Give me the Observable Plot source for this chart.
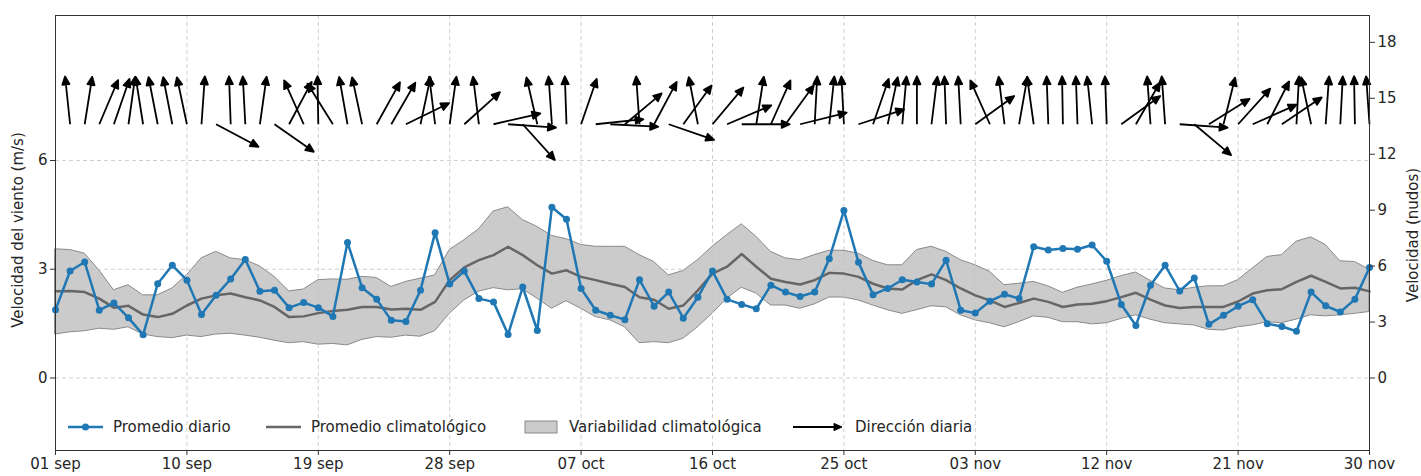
<!DOCTYPE html>
<html><head><meta charset="utf-8">
<script src="https://cdn.jsdelivr.net/npm/d3@7"></script>
<script src="https://cdn.jsdelivr.net/npm/@observablehq/plot@0.6"></script>
<style>body{margin:0;background:#fff;}</style>
</head><body><div id="chart"></div>
<script>
// ---------- data ----------
const startDate = "2024-09-01";
const dailyMean = [
  1.88,2.95,3.20,1.87,2.07,1.66,1.19,2.60,3.11,2.70,
  1.75,2.28,2.73,3.27,2.39,2.42,1.94,2.08,1.94,1.70,
  3.74,2.49,2.17,1.59,1.56,2.42,4.01,2.59,2.95,2.19,
  2.10,1.20,2.51,1.31,4.71,4.38,2.47,1.87,1.73,1.61,
  2.71,1.98,2.37,1.65,2.23,2.95,2.17,2.03,1.91,2.56,
  2.37,2.25,2.37,3.29,4.62,3.19,2.30,2.47,2.71,2.65,
  2.59,3.25,1.87,1.79,2.12,2.31,2.19,3.62,3.53,3.57,
  3.55,3.67,3.22,2.03,1.45,2.56,3.11,2.40,2.76,1.48,
  1.73,1.98,2.16,1.50,1.42,1.29,2.37,1.99,1.82,2.17,
  3.05];
const climMean = [
  2.39,2.40,2.37,2.19,1.94,1.99,1.75,1.68,1.77,2.00,
  2.19,2.28,2.33,2.23,2.14,1.96,1.68,1.70,1.79,1.85,
  1.88,1.96,1.96,1.89,1.91,1.88,2.10,2.70,3.05,3.25,
  3.39,3.62,3.39,3.11,2.88,2.97,2.79,2.70,2.60,2.51,
  2.23,2.16,1.91,2.00,2.42,2.88,3.07,3.42,3.07,2.74,
  2.65,2.58,2.70,2.90,2.88,2.79,2.60,2.47,2.44,2.70,
  2.86,2.70,2.47,2.28,2.14,1.96,2.07,2.19,2.10,1.96,
  2.03,2.05,2.12,2.23,2.35,2.16,2.00,1.93,1.96,1.96,
  1.96,2.11,2.33,2.42,2.45,2.65,2.82,2.65,2.47,2.49,
  2.39];
const climHigh = [
  3.55,3.53,3.43,2.97,2.42,2.56,2.28,2.28,2.47,2.83,
  3.30,3.48,3.30,3.25,3.08,2.79,2.39,2.44,2.70,2.72,
  2.71,2.79,2.76,2.51,2.65,2.74,2.83,3.53,3.80,4.10,
  4.59,4.71,4.36,4.17,3.92,3.83,3.67,3.62,3.62,3.62,
  3.39,3.20,2.83,2.95,3.25,3.62,3.94,4.24,3.90,3.48,
  3.30,3.25,3.39,3.51,3.51,3.43,3.23,3.11,3.11,3.53,
  3.62,3.48,3.25,3.11,2.93,2.56,2.60,2.65,2.53,2.35,
  2.49,2.58,2.68,2.81,2.91,2.68,2.47,2.42,2.49,2.53,
  2.53,2.70,3.02,3.34,3.39,3.76,3.88,3.67,3.22,3.20,
  2.99];
const climLow = [
  1.20,1.26,1.29,1.36,1.33,1.40,1.20,1.13,1.10,1.17,
  1.13,1.20,1.22,1.17,1.11,1.03,0.96,0.99,0.92,0.94,
  0.90,1.05,1.13,1.11,1.17,1.14,1.29,1.77,2.14,2.38,
  2.48,2.42,2.45,2.19,1.91,2.12,1.91,1.68,1.59,1.40,
  0.96,0.99,0.96,1.08,1.40,1.77,2.19,2.49,2.33,2.00,
  2.00,1.91,2.03,2.22,2.22,2.14,2.00,1.87,1.77,1.87,
  1.98,1.95,1.73,1.59,1.51,1.40,1.54,1.70,1.66,1.54,
  1.54,1.48,1.51,1.63,1.73,1.61,1.51,1.48,1.45,1.33,
  1.31,1.40,1.45,1.54,1.51,1.61,1.73,1.70,1.73,1.77,
  1.82];
// direction the arrow points, degrees clockwise from north (null = no arrow)
const windDir = [
  null,-6,9,23,19,8,-9,-11,-11,-12,
  4,118,-2,-3,8,125,28,-24,-1,-32,
  -10,-12,29,30,64,12,-7,8,48,-7,
  77,94,138,-13,-4,-2,19,84,93,50,
  -4,28,109,36,-11,40,67,90,9,24,
  36,76,3,6,-3,72,19,12,5,0,
  7,-2,-3,54,-24,-7,10,-8,-2,-1,
  -2,-6,-2,54,30,-4,-4,94,130,58,
  14,42,66,27,56,3,-12,4,3,-1,
  -4];
const arrowLevel = 7; // m/s row on which the daily direction arrows sit
const xTickLabels = ["01 sep","10 sep","19 sep","28 sep","07 oct","16 oct","25 oct","03 nov","12 nov","21 nov","30 nov"];
const msTicks = [0, 3, 6];
const knotTicks = [0, 3, 6, 9, 12, 15, 18];
const legendLabels = ["Promedio diario", "Promedio climatológico", "Variabilidad climatológica", "Dirección diaria"];
const yLabelLeft = "Velocidad del viento (m/s)";
const yLabelRight = "Velocidad (nudos)";
const MS_TO_KNOTS = 1.94384;

// ---------- build ----------
const FONT = 15;
const t0 = new Date(startDate);
const days = dailyMean.map((_, i) => d3.utcDay.offset(t0, i));
const rows = days.map((date, i) => ({date, daily: dailyMean[i], mean: climMean[i], lo: climLow[i], hi: climHigh[i], dir: windDir[i]}));
const tickDates = xTickLabels.map((_, i) => d3.utcDay.offset(t0, 9 * i));
const tickLabelMap = new Map(tickDates.map((d, i) => [+d, xTickLabels[i]]));

const quiverShape = {
  draw(ctx, l) {
    const hl = 8, hw = 3.6;
    ctx.moveTo(0, 0);
    ctx.lineTo(0, -(l - hl + 1));
    ctx.moveTo(-hw, hl - l);
    ctx.lineTo(0, -l);
    ctx.lineTo(hw, hl - l);
    ctx.closePath();
  }
};

function legendMark(index, scales, values, dims) {
  const g = d3.create("svg:g")
    .attr("font-family", "DejaVu Sans").attr("font-size", FONT).attr("fill", "#262626")
    .attr("text-anchor", "start");
  const y = dims.height - dims.marginBottom - 23;
  const x0 = dims.marginLeft;
  const label = (x, s) => g.append("text").attr("x", x).attr("y", y).attr("dy", "0.35em")
    .attr("text-anchor", "start").text(s);
  // 1: daily mean
  g.append("line").attr("x1", x0 + 13).attr("x2", x0 + 48).attr("y1", y).attr("y2", y)
    .attr("stroke", "#1f77b4").attr("stroke-width", 2.5);
  g.append("circle").attr("cx", x0 + 30.5).attr("cy", y).attr("r", 3.5).attr("fill", "#1f77b4");
  label(x0 + 58, legendLabels[0]);
  // 2: climatological mean
  g.append("line").attr("x1", x0 + 211).attr("x2", x0 + 246).attr("y1", y).attr("y2", y)
    .attr("stroke", "#666").attr("stroke-width", 2.5);
  label(x0 + 256, legendLabels[1]);
  // 3: band
  g.append("rect").attr("x", x0 + 470).attr("y", y - 6).attr("width", 32).attr("height", 12)
    .attr("fill", "#cbcbcb").attr("stroke", "#8a8a8a").attr("stroke-width", 1);
  label(x0 + 514, legendLabels[2]);
  // 4: arrow
  const ax1 = x0 + 738, ax2 = x0 + 787;
  g.append("line").attr("x1", ax1).attr("x2", ax2 - 6).attr("y1", y).attr("y2", y)
    .attr("stroke", "black").attr("stroke-width", 1.8);
  g.append("path").attr("d", `M${ax2 - 8},${y - 3.6}L${ax2},${y}L${ax2 - 8},${y + 3.6}Z`)
    .attr("fill", "black").attr("stroke", "black").attr("stroke-width", 1);
  label(x0 + 800, legendLabels[3]);
  return g.node();
}

const gridStyle = {stroke: "#c4c4c4", strokeOpacity: 1, strokeDasharray: "4,3", strokeWidth: 0.8};

const chart = Plot.plot({
  width: 1421, height: 476,
  marginLeft: 55, marginRight: 52, marginTop: 15, marginBottom: 26,
  style: {fontFamily: "DejaVu Sans", fontSize: FONT + "px", color: "#262626", background: "white", overflow: "visible"},
  x: {type: "utc", domain: [days[0], days[days.length - 1]]},
  y: {domain: [-2, 10]},
  marks: [
    Plot.areaY(rows, {x: "date", y1: "lo", y2: "hi", fill: "#cbcbcb", fillOpacity: 1, stroke: "#8a8a8a", strokeWidth: 1}),
    Plot.gridX(tickDates, gridStyle),
    Plot.gridY(msTicks, gridStyle),
    Plot.line(rows, {x: "date", y: "mean", stroke: "#666666", strokeWidth: 2.5}),
    Plot.line(rows, {x: "date", y: "daily", stroke: "#1f77b4", strokeWidth: 2.5}),
    Plot.dot(rows, {x: "date", y: "daily", fill: "#1f77b4", r: 3.5}),
    Plot.vector(rows.filter(d => d.dir != null), {
      x: "date", y: () => arrowLevel, rotate: "dir", length: 48, anchor: "start",
      shape: quiverShape, stroke: "black", fill: "black", strokeWidth: 1.8, strokeLinecap: "butt"
    }),
    Plot.frame({stroke: "#333", strokeWidth: 1}),
    Plot.axisX(tickDates, {tickFormat: d => tickLabelMap.get(+d), tickSize: 5, tickPadding: 3, label: null, stroke: "#333", fontSize: FONT}),
    Plot.axisY(msTicks, {anchor: "left", tickSize: 5, tickPadding: 3, label: null, stroke: "#333", fontSize: FONT}),
    Plot.axisY(knotTicks.map(k => k / MS_TO_KNOTS), {anchor: "right", tickFormat: v => String(Math.round(v * MS_TO_KNOTS)), tickSize: 5, tickPadding: 3, label: null, stroke: "#333", fontSize: FONT}),
    Plot.text([yLabelLeft], {text: d => d, frameAnchor: "left", textAnchor: "middle", rotate: -90, dx: -37, dy: -3, fontSize: FONT, fill: "#262626"}),
    Plot.text([yLabelRight], {text: d => d, frameAnchor: "right", textAnchor: "middle", rotate: -90, dx: 44, dy: 2, fontSize: FONT, fill: "#262626"}),
    legendMark
  ]
});
document.getElementById("chart").append(chart);
</script>
</body></html>
